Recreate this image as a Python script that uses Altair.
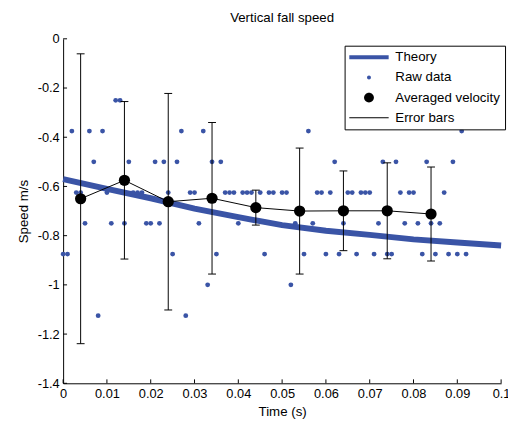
import altair as alt
import pandas as pd

BLUE = "#3A54A6"
FONT = "Liberation Sans"

# Theory curve (read at 0.01 s steps)
theory_t = [0.0, 0.01, 0.02, 0.03, 0.04, 0.05, 0.06, 0.07, 0.08, 0.09, 0.1]
theory_v = [-0.57, -0.61, -0.648, -0.69, -0.725, -0.757, -0.78, -0.797, -0.815, -0.828, -0.84]

# Raw data, grouped by quantized speed level
raw_levels = [-0.25, -0.375, -0.5, -0.625, -0.75, -0.875, -1.0, -1.125]
raw_times = [
    [0.012, 0.013],
    [0.002, 0.006, 0.009, 0.027, 0.032, 0.056, 0.091],
    [0.007, 0.015, 0.021, 0.023, 0.026, 0.034, 0.036, 0.062, 0.073, 0.076, 0.083, 0.089],
    [0.003, 0.004, 0.010, 0.016, 0.017, 0.018, 0.024, 0.029, 0.030, 0.037, 0.038, 0.039,
     0.041, 0.042, 0.043, 0.045, 0.047, 0.048, 0.050, 0.051, 0.058, 0.059, 0.061, 0.065,
     0.066, 0.068, 0.069, 0.070, 0.077, 0.079, 0.080, 0.087],
    [0.005, 0.011, 0.014, 0.019, 0.020, 0.022, 0.031, 0.040, 0.053, 0.057, 0.064, 0.072,
     0.078, 0.081, 0.084, 0.086],
    [0.000, 0.001, 0.025, 0.035, 0.046, 0.055, 0.060, 0.063, 0.067, 0.071, 0.074, 0.075,
     0.082, 0.085, 0.088, 0.090, 0.092],
    [0.033, 0.052],
    [0.008, 0.028],
]

# Averaged velocity with error bars
avg_t = [0.004, 0.014, 0.024, 0.034, 0.044, 0.054, 0.064, 0.074, 0.084]
avg_v = [-0.65, -0.575, -0.662, -0.648, -0.686, -0.70, -0.699, -0.699, -0.712]
avg_err = [0.589, 0.32, 0.44, 0.308, 0.071, 0.256, 0.162, 0.195, 0.191]

x_ticks = [0, 0.01, 0.02, 0.03, 0.04, 0.05, 0.06, 0.07, 0.08, 0.09, 0.1]
y_ticks = [-1.4, -1.2, -1.0, -0.8, -0.6, -0.4, -0.2, 0]

legend_labels = ["Theory", "Raw data", "Averaged velocity", "Error bars"]
legend_colors = [BLUE, BLUE, "black", "black"]
legend_shapes = [
    "M-4,-0.4H4V0.4H-4Z",
    "M-0.4,0A0.4,0.4 0 1,0 0.4,0A0.4,0.4 0 1,0 -0.4,0Z",
    "M-1,0A1,1 0 1,0 1,0A1,1 0 1,0 -1,0Z",
    "M-4,-0.1H4V0.1H-4Z",
]

theory_df = pd.DataFrame({"t": theory_t, "v": theory_v})
raw_df = pd.DataFrame(
    [{"t": t, "v": lvl} for lvl, ts in zip(raw_levels, raw_times) for t in ts]
)
avg_df = pd.DataFrame({"t": avg_t, "v": avg_v, "e": avg_err})
xt_df = pd.DataFrame({"t": x_ticks})
yt_df = pd.DataFrame({"v": y_ticks})
leg_df = pd.DataFrame({"label": legend_labels})

xs = alt.Scale(domain=[0, 0.1], nice=False, zero=False)
ys = alt.Scale(domain=[-1.4, 0], nice=False, zero=False)

LABEL_EXPR = "replace(format(datum.value, '~g'), '\u2212', '-')"

x_axis = alt.Axis(values=x_ticks, labelExpr=LABEL_EXPR, ticks=False, grid=False,
                  domainColor="black", labelColor="black", labelFont=FONT, labelFontSize=13,
                  labelPadding=4, title="Time (s)", titleFont=FONT, titleFontSize=13.5,
                  titleFontWeight="normal", titleColor="black", titlePadding=5,
                  labelFlush=False)
y_axis = alt.Axis(values=y_ticks, labelExpr=LABEL_EXPR, ticks=False, grid=False,
                  domainColor="black", labelColor="black", labelFont=FONT, labelFontSize=13,
                  labelPadding=4, title="Speed m/s", titleFont=FONT, titleFontSize=13.5,
                  titleFontWeight="normal", titleColor="black", titlePadding=7,
                  labelFlush=False)


def X(f):
    return alt.X(f, type="quantitative", scale=xs, axis=x_axis)


def Y(f):
    return alt.Y(f, type="quantitative", scale=ys, axis=y_axis)


theory = alt.Chart(theory_df).mark_line(color=BLUE, strokeWidth=6).encode(x=X("t"), y=Y("v"))
raw = alt.Chart(raw_df).mark_circle(color=BLUE, size=24, opacity=1).encode(x=X("t"), y=Y("v"))

avg_base = alt.Chart(avg_df).transform_calculate(
    lo="datum.v - datum.e", hi="datum.v + datum.e"
)
avg_line = avg_base.mark_line(color="black", strokeWidth=1).encode(x=X("t"), y=Y("v"))
avg_pts = avg_base.mark_circle(color="black", size=130, opacity=1).encode(x=X("t"), y=Y("v"))
err_rule = avg_base.mark_rule(color="black", strokeWidth=1).encode(
    x=X("t"), y=Y("lo:Q"), y2="hi:Q"
)
cap_lo = avg_base.mark_tick(color="black", orient="horizontal", size=8, thickness=1, opacity=1).encode(
    x=X("t"), y=Y("lo:Q")
)
cap_hi = avg_base.mark_tick(color="black", orient="horizontal", size=8, thickness=1, opacity=1).encode(
    x=X("t"), y=Y("hi:Q")
)

xticks = alt.Chart(xt_df).mark_rule(color="black", strokeWidth=1).encode(
    x=X("t"), y=alt.value(350), y2=alt.value(346)
)
yticks = alt.Chart(yt_df).mark_rule(color="black", strokeWidth=1).encode(
    y=Y("v"), x=alt.value(0), x2=alt.value(4)
)

leg = alt.Legend(
    title=None, orient="none", legendX=286, legendY=7, fillColor="white",
    strokeColor="black", padding=5, labelFont=FONT, labelFontSize=13.5, labelColor="black",
    symbolSize=100, symbolStrokeWidth=0, symbolOffset=13, labelOffset=20, rowPadding=5.5,
)
legend_layer = alt.Chart(leg_df).mark_point(filled=True, clip=True, opacity=1).encode(
    x=alt.value(-60), y=alt.value(-60),
    color=alt.Color("label:N", scale=alt.Scale(domain=legend_labels, range=legend_colors), legend=leg),
    shape=alt.Shape("label:N", scale=alt.Scale(domain=legend_labels, range=legend_shapes), legend=leg),
)

chart = alt.layer(
    theory, raw, avg_line, err_rule, cap_lo, cap_hi, avg_pts, xticks, yticks, legend_layer
).properties(
    width=445, height=350,
    title=alt.TitleParams("Vertical fall speed", font=FONT, fontSize=13.5, fontWeight="normal",
                          color="black", anchor="middle", offset=9),
    padding={"left": 56, "top": 28, "right": 7, "bottom": 35},
    autosize=alt.AutoSizeParams(type="none"),
).configure_view(stroke=None)

chart.save("out.html", embed_options={"renderer": "svg", "actions": False})
